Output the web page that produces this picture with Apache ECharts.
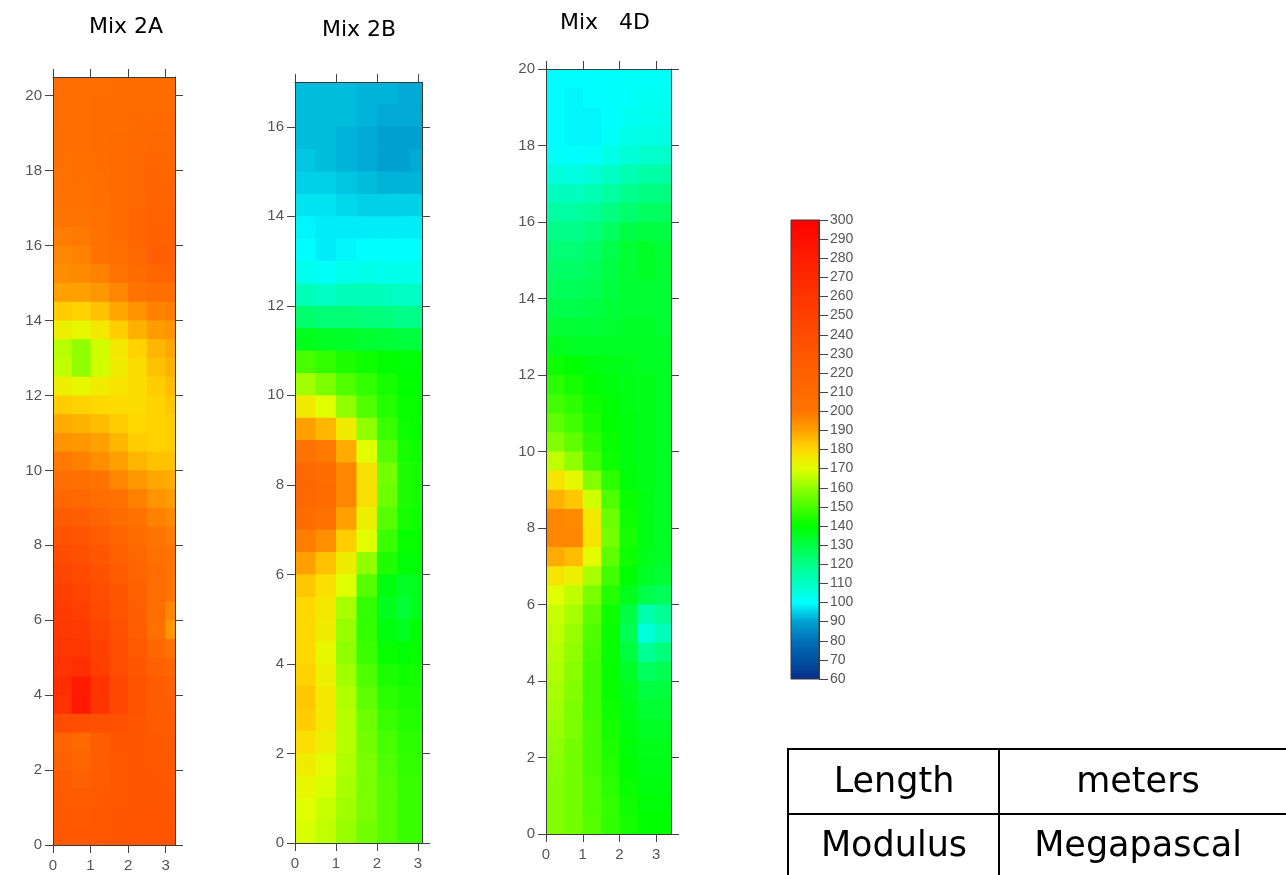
<!DOCTYPE html>
<html><head><meta charset="utf-8">
<script src="https://cdn.jsdelivr.net/npm/echarts@6/dist/echarts.min.js"></script>
<style>html,body{margin:0;padding:0;background:#fff}#c{width:1286px;height:875px}</style>
</head><body><div id="c"></div>
<script>
// ---------- data ----------
const titles = ['Mix 2A', 'Mix 2B', 'Mix   4D'];
const xTicks = [0, 1, 2, 3];
const yTicks2A = [0, 2, 4, 6, 8, 10, 12, 14, 16, 18, 20];
const yTicks2B = [0, 2, 4, 6, 8, 10, 12, 14, 16];
const yTicks4D = [0, 2, 4, 6, 8, 10, 12, 14, 16, 18, 20];
const colorbarValues = [60, 70, 80, 90, 100, 110, 120, 130, 140, 150, 160, 170, 180, 190, 200, 210, 220, 230, 240, 250, 260, 270, 280, 290, 300];
const colorbarColors = ['#0a2d8c', '#0050a0', '#0070b8', '#00a0d0', '#00ffff', '#00ffc4', '#00ff88', '#00ff44', '#00ff00', '#48ff00', '#90ff00', '#e0ff00', '#ffd800', '#ffa000', '#ff7400', '#ff6a00', '#ff6000', '#ff5600', '#ff4c00', '#ff4000', '#ff3400', '#ff2800', '#ff1c00', '#ff0e00', '#ff0000'];
const tableRows = [['Length', 'meters'], ['Modulus', 'Megapascal']];

// column centres (m) and row centres (m, top to bottom) of the modulus grids (MPa)
const xCols2A = [0.25, 0.75, 1.25, 1.75, 2.25, 2.75, 3.25];
const xCols2B = [0.25, 0.75, 1.25, 1.75, 2.25, 2.75, 3.05];
const xCols4D = [0.25, 0.75, 1.25, 1.75, 2.25, 2.75, 3.2];
const yRows2A = [20.25,19.75,19.25,18.75,18.25,17.75,17.25,16.75,16.25,15.75,15.25,14.75,14.25,13.75,13.25,12.75,12.25,11.75,11.25,10.75,10.25,9.75,9.25,8.75,8.25,7.75,7.25,6.75,6.25,5.75,5.25,4.75,4.25,3.75,3.25,2.75,2.25,1.75,1.25,0.75,0.25];
const yRows2B = [16.75,16.25,15.75,15.25,14.75,14.25,13.75,13.25,12.75,12.25,11.75,11.25,10.75,10.25,9.75,9.25,8.75,8.25,7.75,7.25,6.75,6.25,5.75,5.25,4.75,4.25,3.75,3.25,2.75,2.25,1.75,1.25,0.75,0.25];
const yRows4D = [19.75,19.25,18.75,18.25,17.75,17.25,16.75,16.25,15.75,15.25,14.75,14.25,13.75,13.25,12.75,12.25,11.75,11.25,10.75,10.25,9.75,9.25,8.75,8.25,7.75,7.25,6.75,6.25,5.75,5.25,4.75,4.25,3.75,3.25,2.75,2.25,1.75,1.25,0.75,0.25];

const mix2A = [
[206,206,206,207,208,208,208],
[206,206,207,208,209,209,209],
[206,206,207,208,210,211,211],
[205,206,207,209,211,212,212],
[204,205,207,209,212,214,213],
[203,204,206,209,213,215,214],
[202,203,205,209,213,216,215],
[200,201,204,208,214,218,217],
[198,199,202,207,214,220,218],
[196,197,200,205,213,221,219],
[194,195,197,201,208,215,214],
[190,190,192,196,200,205,205],
[182,181,184,189,193,197,198],
[174,172,176,182,187,191,193],
[165,160,168,176,181,186,189],
[166,160,168,175,179,184,187],
[174,172,175,177,179,182,185],
[182,181,180,179,179,181,183],
[188,187,185,182,180,181,182],
[193,192,190,186,182,181,182],
[199,197,194,190,186,184,184],
[206,204,200,196,192,189,188],
[214,212,207,202,197,193,191],
[224,221,215,208,202,197,195],
[233,230,223,214,207,201,198],
[240,237,229,220,212,204,200],
[245,242,234,225,215,207,201],
[249,246,238,229,219,208,200],
[253,250,242,232,221,206,196],
[256,254,246,235,223,204,192],
[258,258,249,238,226,212,202],
[260,265,252,240,230,220,214],
[266,280,260,244,233,224,220],
[262,282,259,243,233,225,222],
[240,238,236,235,231,226,224],
[218,210,222,230,230,227,226],
[220,214,223,228,229,228,227],
[224,220,224,228,229,229,228],
[226,224,226,228,229,230,229],
[227,226,227,229,230,231,230],
[228,227,228,229,231,232,231]
];

const mix2B = [
[93,93,93,92,92,91,91],
[93,93,93,92,91,91,91],
[93,93,92,91,90,90,90],
[94,93,92,91,90,90,91],
[95,95,94,93,92,92,92],
[97,97,96,95,95,95,95],
[99,98,98,98,98,98,98],
[100,98,99,100,100,100,100],
[103,101,103,104,103,103,103],
[112,110,112,112,111,110,110],
[124,123,123,122,121,120,120],
[136,135,134,133,132,131,131],
[150,147,144,142,140,139,139],
[162,157,151,147,143,140,140],
[176,170,160,151,145,141,141],
[190,186,175,160,148,142,141],
[203,199,188,170,152,143,142],
[212,208,196,178,156,144,143],
[213,209,196,178,155,144,143],
[207,203,190,174,152,143,142],
[198,194,182,170,148,141,141],
[190,184,175,160,144,139,139],
[183,178,170,152,138,134,136],
[180,176,163,147,136,132,136],
[180,175,161,147,138,135,139],
[180,172,160,148,141,139,141],
[181,174,162,151,144,142,143],
[183,176,164,153,146,144,144],
[182,176,165,155,148,145,145],
[178,174,165,156,150,146,146],
[175,171,164,157,151,147,147],
[172,169,163,157,152,148,148],
[170,167,162,157,152,148,148],
[169,166,161,156,152,148,148]
];

const mix4D = [
[100,100,100,100,101,101,101],
[100,99,100,100,101,102,102],
[100,99,99,100,102,103,103],
[100,99,99,101,104,105,105],
[101,100,101,104,107,109,109],
[106,105,107,110,113,115,115],
[111,111,113,116,119,121,121],
[116,116,118,121,124,126,126],
[120,120,122,126,130,131,130],
[123,123,125,129,133,134,132],
[125,125,127,130,133,134,133],
[127,127,128,131,133,133,132],
[129,129,130,132,133,133,132],
[132,132,132,133,134,134,133],
[136,135,135,135,135,135,134],
[142,140,138,137,136,135,135],
[146,143,140,138,137,136,135],
[149,146,142,139,137,136,135],
[153,149,144,140,138,136,135],
[158,153,146,141,138,136,135],
[166,160,149,142,138,136,135],
[177,172,158,146,139,136,135],
[187,183,168,151,141,137,135],
[196,195,176,155,142,137,135],
[196,196,177,156,143,137,135],
[188,185,171,153,142,136,134],
[177,174,163,149,140,134,132],
[170,166,157,145,136,129,127],
[167,163,153,142,130,114,118],
[166,161,151,141,128,106,112],
[165,160,150,141,131,118,122],
[164,159,149,141,134,126,128],
[163,158,149,141,136,130,131],
[162,157,149,142,137,133,133],
[161,157,150,143,138,135,135],
[160,156,150,144,139,136,136],
[159,156,150,145,140,137,137],
[158,156,151,146,141,138,138],
[158,156,151,147,142,139,139],
[158,156,152,147,143,140,140]
];

// ---------- build ----------
function toItems(rows, xs, ys) {
  const out = [];
  rows.forEach((row, i) => row.forEach((v, j) => out.push([xs[j], ys[i], v])));
  return out;
}
const CELL = 0.25; // half cell size in metres
function renderCell(params, api) {
  const xc = api.value(0), yc = api.value(1);
  const p0 = api.coord([xc - CELL, yc + CELL]);
  const p1 = api.coord([xc + CELL, yc - CELL]);
  return {
    type: 'rect',
    shape: { x: p0[0], y: p0[1], width: p1[0] - p0[0] + 0.8, height: p1[1] - p0[1] + 0.8 },
    style: { fill: api.visual('color') }
  };
}

const panels = [
  { grid: { left: 53, top: 77, width: 122, height: 768 }, xMax: 3.25, yMax: 20.5, yTicks: yTicks2A, data: toItems(mix2A, xCols2A, yRows2A) },
  { grid: { left: 295, top: 82, width: 127, height: 761 }, xMax: 3.1, yMax: 17, yTicks: yTicks2B, data: toItems(mix2B, xCols2B, yRows2B) },
  { grid: { left: 546, top: 69, width: 125, height: 765 }, xMax: 3.4, yMax: 20, yTicks: yTicks4D, data: toItems(mix4D, xCols4D, yRows4D) }
];

const axisLineStyle = { color: '#3a3a3a', width: 1 };
const tickStyle = { color: '#444', width: 1 };
const labelStyle = { color: '#555', fontSize: 15, fontFamily: 'Liberation Sans' };

const grids = [], xAxes = [], yAxes = [], series = [];
panels.forEach((p, k) => {
  grids.push(Object.assign({ containLabel: false }, p.grid));
  ['bottom', 'top'].forEach(pos => xAxes.push({
    type: 'value', gridIndex: k, position: pos, min: 0, max: p.xMax, interval: 1, z: 5,
    axisLine: { show: true, onZero: false, lineStyle: axisLineStyle },
    axisTick: { show: true, length: 8, lineStyle: tickStyle, customValues: xTicks },
    axisLabel: pos === 'bottom' ? Object.assign({ margin: 13, customValues: xTicks }, labelStyle) : { show: false },
    splitLine: { show: false }
  }));
  ['left', 'right'].forEach(pos => yAxes.push({
    type: 'value', gridIndex: k, position: pos, min: 0, max: p.yMax, interval: 2, z: 5,
    axisLine: { show: true, onZero: false, lineStyle: axisLineStyle },
    axisTick: { show: true, length: 8, lineStyle: tickStyle, customValues: p.yTicks },
    axisLabel: pos === 'left' ? Object.assign({ margin: 11, customValues: p.yTicks }, labelStyle) : { show: false },
    splitLine: { show: false }
  }));
  series.push({
    type: 'custom', name: titles[k], coordinateSystem: 'cartesian2d',
    xAxisIndex: 2 * k, yAxisIndex: 2 * k, clip: true,
    dimensions: ['x', 'y', 'modulus'], encode: { x: 0, y: 1 },
    renderItem: renderCell, data: p.data, silent: true
  });
});

// colour bar
grids.push({ left: 791, top: 220, width: 28, height: 459 });
xAxes.push({ type: 'value', gridIndex: 3, min: 0, max: 1, show: false });
yAxes.push({
  type: 'value', gridIndex: 3, position: 'right', min: 60, max: 300, interval: 10, z: 5,
  axisLine: { show: true, onZero: false, lineStyle: axisLineStyle },
  axisTick: { show: true, length: 9, lineStyle: tickStyle },
  axisLabel: Object.assign({ margin: 11 }, labelStyle, { fontSize: 14 }),
  splitLine: { show: false }
});
const n = colorbarValues.length;
const gradStops = colorbarColors.map((c, i) => ({ offset: (colorbarValues[i] - 60) / 240, color: c }));
series.push({
  type: 'custom', coordinateSystem: 'cartesian2d', xAxisIndex: 6, yAxisIndex: 6, silent: true,
  data: [[0, colorbarValues[0], colorbarValues[n - 1]]],
  renderItem: function (params, api) {
    const p0 = api.coord([0, api.value(2)]);
    const p1 = api.coord([1, api.value(1)]);
    return {
      type: 'rect',
      shape: { x: p0[0], y: p0[1], width: p1[0] - p0[0], height: p1[1] - p0[1] },
      style: { fill: new echarts.graphic.LinearGradient(0, 1, 0, 0, gradStops), stroke: '#3a3a3a', lineWidth: 1 }
    };
  }
});

const titleFont = '22px "DejaVu Sans"';
const tableFont = '35px "DejaVu Sans"';
const graphics = [
  { type: 'text', x: 126, y: 27, style: { text: titles[0], font: titleFont, fill: '#000', align: 'center', verticalAlign: 'middle' } },
  { type: 'text', x: 359, y: 30, style: { text: titles[1], font: titleFont, fill: '#000', align: 'center', verticalAlign: 'middle' } },
  { type: 'text', x: 605, y: 23, style: { text: titles[2], font: titleFont, fill: '#000', align: 'center', verticalAlign: 'middle' } },
  { type: 'rect', shape: { x: 788, y: 749, width: 620, height: 200 }, style: { fill: 'none', stroke: '#000', lineWidth: 2 } },
  { type: 'line', shape: { x1: 788, y1: 814, x2: 1300, y2: 814 }, style: { stroke: '#000', lineWidth: 2 } },
  { type: 'line', shape: { x1: 999, y1: 749, x2: 999, y2: 900 }, style: { stroke: '#000', lineWidth: 2 } },
  { type: 'text', x: 894, y: 783, style: { text: tableRows[0][0], font: tableFont, fill: '#000', align: 'center', verticalAlign: 'middle' } },
  { type: 'text', x: 1138, y: 783, style: { text: tableRows[0][1], font: tableFont, fill: '#000', align: 'center', verticalAlign: 'middle' } },
  { type: 'text', x: 894, y: 847, style: { text: tableRows[1][0], font: tableFont, fill: '#000', align: 'center', verticalAlign: 'middle' } },
  { type: 'text', x: 1138, y: 847, style: { text: tableRows[1][1], font: tableFont, fill: '#000', align: 'center', verticalAlign: 'middle' } }
];

const chart = echarts.init(document.getElementById('c'), null, { renderer: 'canvas' });
chart.setOption({
  animation: false,
  backgroundColor: '#fff',
  grid: grids,
  xAxis: xAxes,
  yAxis: yAxes,
  visualMap: {
    show: false, type: 'continuous', min: 60, max: 300, dimension: 2,
    seriesIndex: [0, 1, 2], inRange: { color: colorbarColors }
  },
  series: series,
  graphic: graphics
});
</script>
</body></html>
